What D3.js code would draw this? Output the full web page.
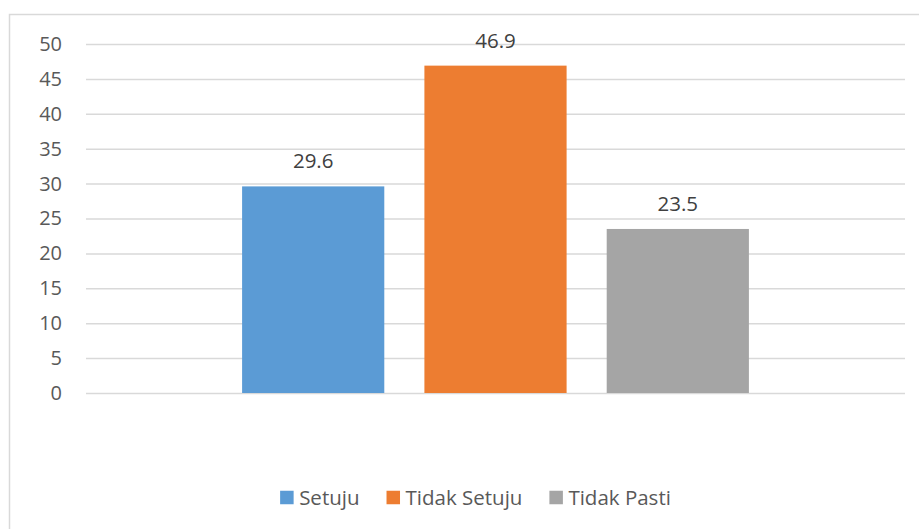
<!DOCTYPE html>
<html>
<head>
<meta charset="utf-8">
<script src="https://cdn.jsdelivr.net/npm/d3@7"></script>
<style>
  html, body { margin: 0; padding: 0; background: #fff; }
  svg { display: block; font-family: "Open Sans", "Noto Sans", sans-serif; }
</style>
</head>
<body>
<div id="chart"></div>
<script>
(function drawChart() {
  const series = ['Setuju', 'Tidak Setuju', 'Tidak Pasti']
  const values = [29.6, 46.9, 23.5]
  const colors = ['#5b9bd5', '#ed7d31', '#a5a5a5']
  const yTicks = [0, 5, 10, 15, 20, 25, 30, 35, 40, 45, 50]

  const WIDTH = 919
  const HEIGHT = 529
  const FONT = '"Open Sans", "Noto Sans", sans-serif'
  const margin = {top: 44, right: 14, bottom: 136, left: 86}
  const LEGEND_CENTER = 475.5
  const LEGEND_Y = 497.5

  const svg = d3.select('#chart')
    .append('svg')
    .attr('width', WIDTH)
    .attr('height', HEIGHT)

  // chart frame
  svg.append('rect')
    .attr('x', 9.5)
    .attr('y', 14.5)
    .attr('width', WIDTH + 20)
    .attr('height', HEIGHT + 20)
    .attr('fill', 'none')
    .attr('stroke', '#d9d9d9')
    .attr('stroke-width', 1.5)

  const y = d3.scaleLinear()
    .domain([0, 50])
    .range([HEIGHT - margin.bottom, margin.top])

  // one category, three series side by side
  const x0 = d3.scaleBand()
    .domain(['all'])
    .range([margin.left, WIDTH - margin.right])
    .paddingInner(0)
    .paddingOuter(0.308)

  const x1 = d3.scaleBand()
    .domain(series)
    .range([0, x0.bandwidth()])
    .paddingInner(0.22)
    .paddingOuter(0)

  // gridlines + tick labels
  const yAxis = d3.axisLeft(y)
    .tickValues(yTicks)
    .tickSize(-(WIDTH - margin.left - margin.right))
    .tickPadding(24)

  const gy = svg.append('g')
    .attr('transform', 'translate(' + margin.left + ',0)')
    .call(yAxis)
    .attr('font-family', FONT)
    .attr('font-size', 20)
  gy.select('.domain').remove()
  gy.selectAll('.tick line')
    .attr('stroke', '#d9d9d9')
    .attr('stroke-width', 1.5)
  gy.selectAll('.tick text')
    .attr('fill', '#595959')

  // bars
  const group = svg.append('g')
    .attr('transform', 'translate(' + x0('all') + ',0)')

  group.selectAll('rect')
    .data(series)
    .enter()
    .append('rect')
    .attr('x', (d) => x1(d))
    .attr('y', (d, i) => y(values[i]))
    .attr('width', x1.bandwidth())
    .attr('height', (d, i) => y(0) - y(values[i]))
    .attr('fill', (d, i) => colors[i])

  // data labels
  group.selectAll('text.value')
    .data(series)
    .enter()
    .append('text')
    .attr('class', 'value')
    .attr('x', (d) => x1(d) + x1.bandwidth() / 2)
    .attr('y', (d, i) => y(values[i]) - 18)
    .attr('text-anchor', 'middle')
    .attr('fill', '#404040')
    .style('font-size', '20.5px')
    .text((d, i) => values[i].toFixed(1))

  // legend
  const legend = svg.append('g')
  const items = legend.selectAll('g')
    .data(series)
    .enter()
    .append('g')

  items.append('rect')
    .attr('width', 13.5)
    .attr('height', 13.5)
    .attr('y', -6.75)
    .attr('fill', (d, i) => colors[i])

  items.append('text')
    .attr('x', 19)
    .attr('dy', '0.35em')
    .attr('fill', '#595959')
    .style('font-size', '20.5px')
    .text((d) => d)

  let offset = 0
  items.each(function () {
    const w = this.querySelector('text').getComputedTextLength()
    d3.select(this).attr('transform', 'translate(' + offset + ',0)')
    offset += 19 + w + 27
  })
  const total = offset - 27
  legend.attr('transform', 'translate(' + (LEGEND_CENTER - total / 2) + ',' + LEGEND_Y + ')')
})()
</script>
</body>
</html>
